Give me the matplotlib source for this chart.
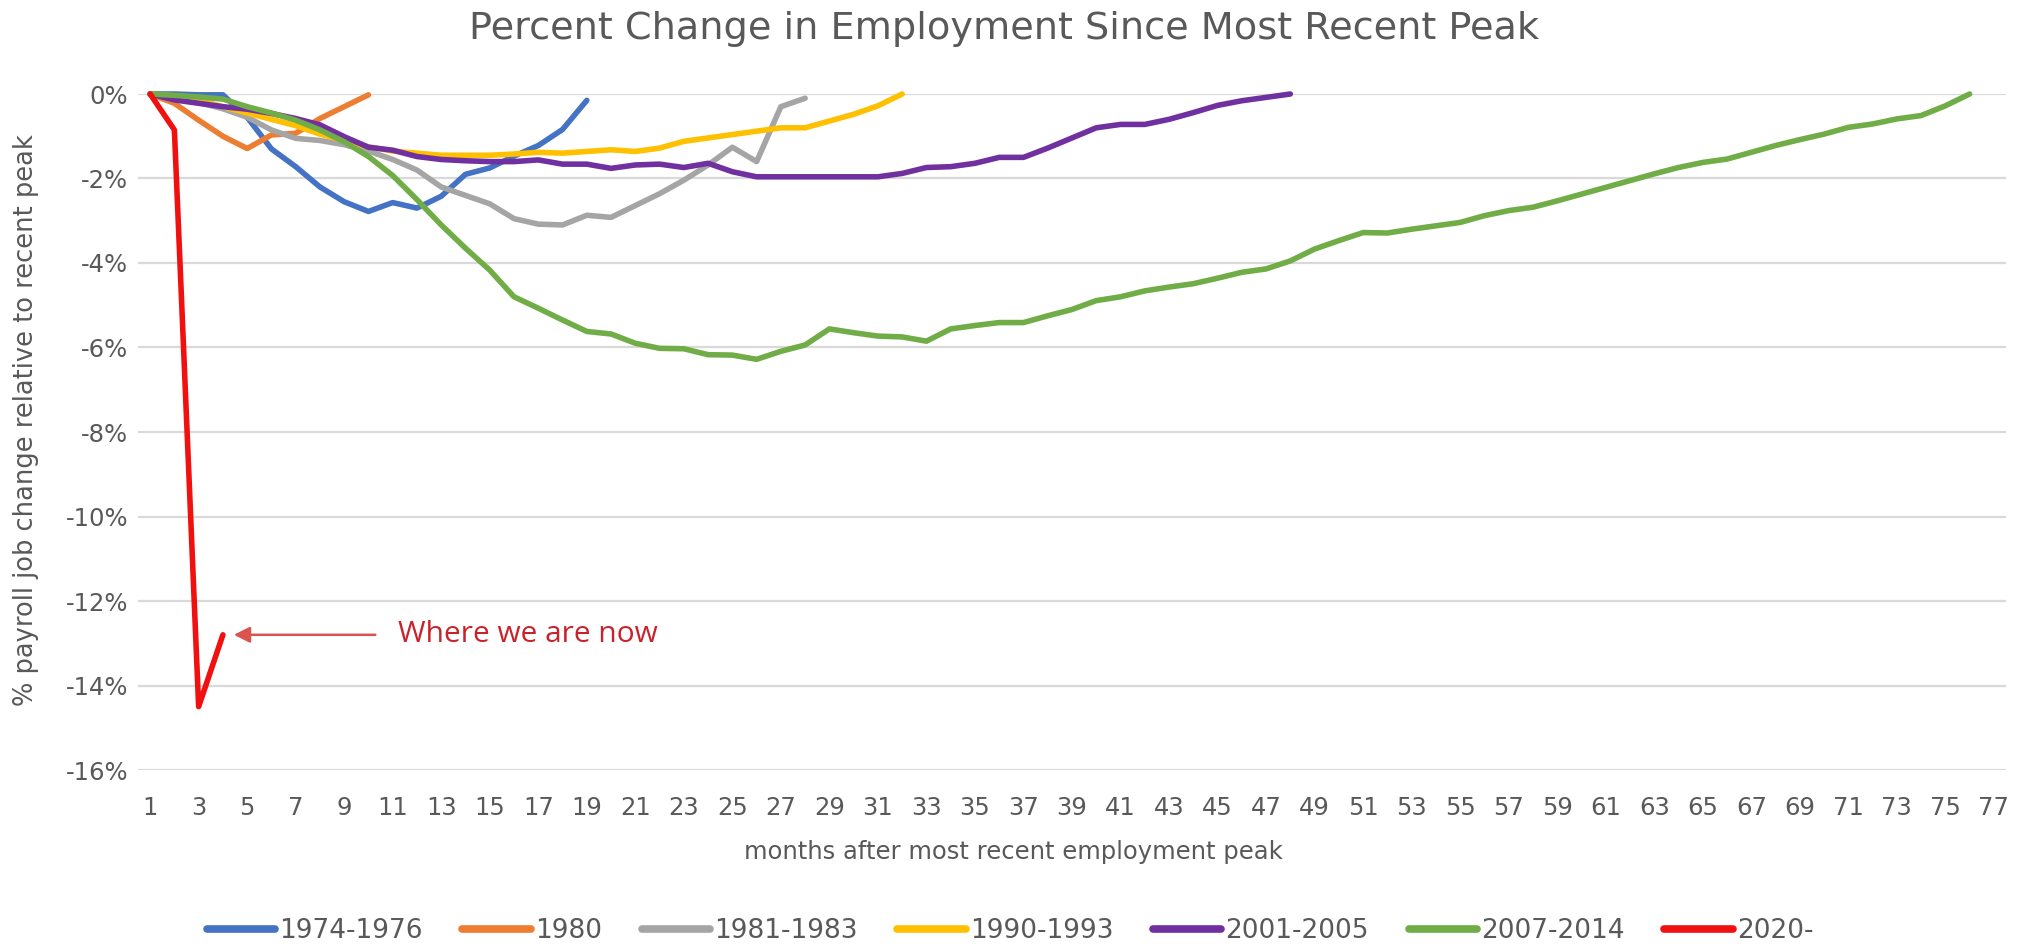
import matplotlib
matplotlib.use("Agg")
import matplotlib.pyplot as plt
from matplotlib.ticker import FuncFormatter

plt.rcParams['font.family'] = ['DejaVu Sans']

# percent change in payroll jobs vs. most recent peak, by month after the peak
jobs_1974 = [0, 0, -0.02, -0.02, -0.55, -1.3, -1.72, -2.2, -2.55, -2.78,
             -2.57, -2.7, -2.42, -1.9, -1.75, -1.47, -1.22, -0.84, -0.15]
jobs_1980 = [0, -0.22, -0.62, -1.0, -1.29, -0.97, -0.93, -0.58, -0.3, -0.02]
jobs_1981 = [0, -0.1, -0.2, -0.35, -0.55, -0.85, -1.05, -1.1, -1.2, -1.35,
             -1.55, -1.8, -2.2, -2.4, -2.6, -2.95, -3.08, -3.1, -2.87, -2.92,
             -2.64, -2.36, -2.04, -1.68, -1.26, -1.6, -0.3, -0.1]
jobs_1990 = [0, -0.05, -0.15, -0.3, -0.45, -0.6, -0.75, -0.95, -1.1, -1.25,
             -1.35, -1.4, -1.45, -1.45, -1.45, -1.42, -1.38, -1.4, -1.36, -1.32,
             -1.36, -1.28, -1.12, -1.04, -0.96, -0.88, -0.8, -0.8, -0.64, -0.48,
             -0.28, 0]
jobs_2001 = [0, -0.14, -0.22, -0.3, -0.36, -0.46, -0.58, -0.73, -1.01, -1.26,
             -1.33, -1.48, -1.55, -1.58, -1.6, -1.6, -1.56, -1.66, -1.66, -1.76,
             -1.68, -1.66, -1.74, -1.64, -1.84, -1.96, -1.96, -1.96, -1.96, -1.96,
             -1.96, -1.88, -1.74, -1.72, -1.64, -1.5, -1.5, -1.28, -1.04, -0.8,
             -0.72, -0.72, -0.6, -0.44, -0.27, -0.16, -0.08, 0]
jobs_2007 = [0, -0.03, -0.07, -0.12, -0.3, -0.45, -0.62, -0.85, -1.13, -1.48,
             -1.93, -2.5, -3.1, -3.65, -4.17, -4.8, -5.07, -5.35, -5.62, -5.68,
             -5.9, -6.02, -6.03, -6.17, -6.18, -6.28, -6.09, -5.94, -5.56, -5.65,
             -5.73, -5.75, -5.85, -5.56, -5.48, -5.41, -5.41, -5.25, -5.1, -4.89,
             -4.8, -4.66, -4.57, -4.49, -4.36, -4.22, -4.14, -3.95, -3.67, -3.47,
             -3.28, -3.29, -3.2, -3.12, -3.04, -2.88, -2.76, -2.68, -2.53, -2.37,
             -2.21, -2.05, -1.89, -1.74, -1.62, -1.54, -1.38, -1.22, -1.08, -0.95,
             -0.79, -0.71, -0.59, -0.51, -0.28, 0]
jobs_2020 = [0, -0.85, -14.5, -12.8]

labels = ['1974-1976', '1980', '1981-1983', '1990-1993',
          '2001-2005', '2007-2014', '2020-']
series = [jobs_1974, jobs_1980, jobs_1981, jobs_1990,
          jobs_2001, jobs_2007, jobs_2020]
colors = ['#4472C4', '#ED7D31', '#A5A5A5', '#FFC000',
          '#7030A0', '#70AD47', '#F01010']

xticks = list(range(1, 78, 2))
yticks = list(range(0, -17, -2))

text_grey = '#595959'

fig = plt.figure(figsize=(20.19, 9.46), dpi=100)
ax = fig.add_axes([138 / 2019, 1 - 770 / 946, 1868 / 2019, 676 / 946])

handles = []
for vals, lab, col in zip(series, labels, colors):
    months = list(range(1, len(vals) + 1))
    ln, = ax.plot(months, vals, color=col, lw=4, label=lab,
                  solid_capstyle='round', solid_joinstyle='round',
                  clip_on=False, zorder=3)
    handles.append(ln)

ax.set_xlim(0.5, 77.5)
ax.set_ylim(-16, 0)
ax.set_xticks(xticks)
ax.set_yticks(yticks)
ax.yaxis.set_major_formatter(FuncFormatter(lambda v, p: f"{int(round(v))}%"))
ax.tick_params(length=0, labelsize=17.5, labelcolor=text_grey)
ax.tick_params(axis='x', pad=19)
ax.tick_params(axis='y', pad=7)
ax.grid(axis='y', color='#D9D9D9', lw=1.6, zorder=0)
for s in ax.spines.values():
    s.set_visible(False)

# callout pointing at the latest 2020 month
ax.annotate('Where we are now', xy=(4.45, -12.8), xytext=(11.2, -12.8),
            color='#C8232B', fontsize=21.5, family=['Open Sans', 'DejaVu Sans'],
            ha='left', va='center',
            arrowprops=dict(arrowstyle='-|>', color='#D9534F', lw=1.8,
                            mutation_scale=24, shrinkA=14, shrinkB=0))

fig.text(1004 / 2019, 1 - 29 / 946,
         'Percent Change in Employment Since Most Recent Peak',
         ha='center', va='center', fontsize=27.5, color=text_grey)
fig.text(1013 / 2019, 1 - 852 / 946, 'months after most recent employment peak',
         ha='center', va='center', fontsize=17.5, color=text_grey)
fig.text(26 / 2019, 1 - 420 / 946, '% payroll job change relative to recent peak',
         ha='center', va='center', rotation=90, fontsize=18.5, color=text_grey)

leg = fig.legend(handles, labels, loc='center', ncol=7, frameon=False,
                 bbox_to_anchor=(1010 / 2019, 1 - 931 / 946),
                 fontsize=19, handlelength=2.6, handletextpad=0.15,
                 columnspacing=1.5)
for t in leg.get_texts():
    t.set_color(text_grey)
for h in leg.get_lines():
    h.set_linewidth(5.5)

fig.savefig('out.png', dpi=100)
